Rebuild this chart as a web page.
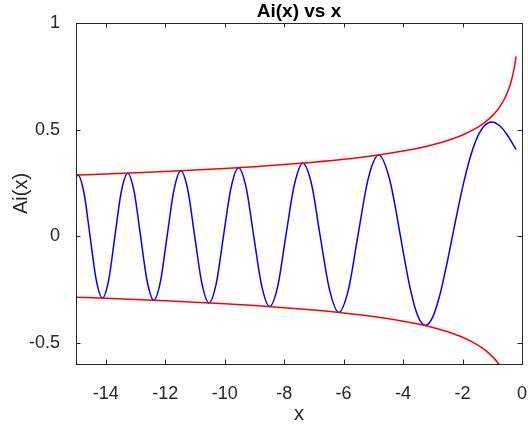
<!DOCTYPE html>
<html>
<head>
<meta charset="utf-8">
<script src="https://cdn.jsdelivr.net/npm/chart.js@4"></script>
<style>
  html, body { margin: 0; padding: 0; background: #fff; }
  #wrap { width: 528px; height: 427px; }
</style>
</head>
<body>
<div id="wrap"><canvas id="myChart" width="528" height="427"></canvas></div>
<script>
// Ai(x): peaks, troughs, zero crossings and points between
const aiX = [-15.0, -14.9365, -14.732, -14.5278, -14.32, -14.1115, -13.902, -13.6915,
    -13.477, -13.2622, -13.046, -12.8288, -12.607, -12.3848, -12.16, -11.936,
    -11.706, -11.4751, -11.242, -11.0085, -10.768, -10.5277, -10.284, -10.0402,
    -9.788, -9.5355, -9.279, -9.0227, -8.756, -8.4885, -8.216, -7.9441,
    -7.658, -7.3722, -7.079, -6.7867, -6.475, -6.1633, -5.842, -5.5206,
    -5.17, -4.8201, -4.454, -4.088, -4.0, -3.75, -3.5, -3.2482,
    -3.0, -2.75, -2.5, -2.3381, -2.25, -2.0, -1.75, -1.5,
    -1.25, -1.0188, -0.75, -0.5, -0.25, -0.2];
const aiY = [0.278, 0.287, 0.2036, 0, -0.2051, -0.2911, -0.2066, 0,
    0.2082, 0.2956, 0.2099, 0, -0.2117, -0.3007, -0.2136, 0,
    0.2157, 0.3065, 0.2179, 0, -0.2202, -0.3132, -0.2228, 0,
    0.2256, 0.321, 0.2286, 0, -0.2319, -0.3305, -0.2357, 0,
    0.2398, 0.3423, 0.2446, 0, -0.2501, -0.3579, -0.2535, 0,
    0.2712, 0.3804, 0.267, 0, -0.0703, -0.2521, -0.3763, -0.419,
    -0.3788, -0.2691, -0.1123, 0, 0.0616, 0.2274, 0.3655, 0.4643,
    0.52, 0.5357, 0.5178, 0.4757, 0.4187, 0.4063];

// red envelope curves
const envX = [-15, -14, -13, -12, -11, -10, -9, -8, -7, -6, -5, -4, -3.5, -3, -2.5,
    -2, -1.5, -1.25, -1, -0.8, -0.7, -0.6, -0.5, -0.4, -0.35, -0.3, -0.25, -0.225, -0.2];
const envUpper = [0.2867, 0.2917, 0.2971, 0.3031, 0.3098, 0.3173, 0.3257, 0.3355, 0.3469,
    0.3605, 0.3773, 0.3989, 0.4125, 0.4287, 0.4487, 0.4744, 0.5098, 0.5336, 0.5642,
    0.5966, 0.6168, 0.6411, 0.6709, 0.7094, 0.7335, 0.7623, 0.7979, 0.8192, 0.8437];
const envLower = [-0.2867, -0.2917, -0.2971, -0.3031, -0.3098, -0.3173, -0.3257, -0.3355, -0.3469,
    -0.3605, -0.3773, -0.3989, -0.4125, -0.4287, -0.4487, -0.4744, -0.5098, -0.5336, -0.5642,
    -0.5966, -0.6168, -0.6411, -0.6709, -0.7094, -0.7335, -0.7623, -0.7979, -0.8192, -0.8437];

const xTicks = [-14, -12, -10, -8, -6, -4, -2, 0];
const yTicks = [-0.5, 0, 0.5, 1];

const axisColor = "#262626";
const fontFamily = "'Liberation Sans', Arial, Helvetica, sans-serif";

const toPoints = (xs, ys) => xs.map((x, i) => ({ x: x, y: ys[i] }));

// box, inward ticks and the three titles, MATLAB style
const framePlugin = {
    id: "frame",
    afterDraw(chart) {
        const ctx = chart.ctx;
        const a = chart.chartArea;
        const xs = chart.scales.x;
        const ys = chart.scales.y;
        const tl = 4.5;
        ctx.save();
        ctx.strokeStyle = axisColor;
        ctx.lineWidth = 1;
        ctx.strokeRect(a.left + 0.5, a.top + 0.5, a.right - a.left, a.bottom - a.top);
        ctx.beginPath();
        xTicks.forEach((v) => {
            const px = Math.round(xs.getPixelForValue(v)) + 0.5;
            ctx.moveTo(px, a.bottom);
            ctx.lineTo(px, a.bottom - tl);
            ctx.moveTo(px, a.top);
            ctx.lineTo(px, a.top + tl);
        });
        yTicks.forEach((v) => {
            const py = Math.round(ys.getPixelForValue(v)) + 0.5;
            ctx.moveTo(a.left, py);
            ctx.lineTo(a.left + tl, py);
            ctx.moveTo(a.right, py);
            ctx.lineTo(a.right - tl, py);
        });
        ctx.stroke();

        const cx = (a.left + a.right) / 2;
        ctx.fillStyle = "#000";
        ctx.textAlign = "center";
        ctx.textBaseline = "middle";
        ctx.font = "bold 19px " + fontFamily;
        ctx.fillText("Ai(x) vs x", cx, 11.5);

        ctx.fillStyle = axisColor;
        ctx.font = "20px " + fontFamily;
        ctx.textBaseline = "alphabetic";
        ctx.fillText("x", cx, 420);

        ctx.translate(27, (a.top + a.bottom) / 2);
        ctx.rotate(-Math.PI / 2);
        ctx.fillText("Ai(x)", 0, 0);
        ctx.restore();
    },
};

const ctx = document.getElementById("myChart").getContext("2d");
const chart = new window.Chart(ctx, {
    type: "line",
    data: {
        datasets: [
            {
                label: "env+",
                data: toPoints(envX, envUpper),
                borderColor: "#ff0000",
                borderWidth: 1.5,
                pointRadius: 0,
                cubicInterpolationMode: "monotone",
            },
            {
                label: "env-",
                data: toPoints(envX, envLower),
                borderColor: "#ff0000",
                borderWidth: 1.5,
                pointRadius: 0,
                cubicInterpolationMode: "monotone",
            },
            {
                label: "Ai(x)",
                data: toPoints(aiX, aiY),
                borderColor: "#0000ff",
                borderWidth: 1.5,
                pointRadius: 0,
                cubicInterpolationMode: "monotone",
            },
        ],
    },
    options: {
        responsive: false,
        animation: false,
        devicePixelRatio: 1,
        layout: { padding: { left: 0, right: 6, top: 23, bottom: 0 } },
        plugins: {
            legend: { display: false },
            tooltip: { enabled: false },
        },
        scales: {
            x: {
                type: "linear",
                min: -15,
                max: 0,
                afterBuildTicks: (scale) => {
                    scale.ticks = xTicks.map((v) => ({ value: v }));
                },
                afterFit: (scale) => {
                    scale.height = 63;
                    scale.paddingLeft = 0;
                    scale.paddingRight = 0;
                },
                grid: { display: false },
                border: { display: false },
                ticks: {
                    padding: 11,
                    maxRotation: 0,
                    color: axisColor,
                    font: { family: fontFamily, size: 18 },
                    callback: (v) => String(v),
                },
            },
            y: {
                type: "linear",
                min: -0.6,
                max: 1,
                afterBuildTicks: (scale) => {
                    scale.ticks = yTicks.map((v) => ({ value: v }));
                },
                afterFit: (scale) => {
                    scale.width = 76;
                    scale.paddingTop = 0;
                    scale.paddingBottom = 0;
                },
                grid: { display: false },
                border: { display: false },
                ticks: {
                    padding: 8,
                    color: axisColor,
                    font: { family: fontFamily, size: 18 },
                    callback: (v) => String(v),
                },
            },
        },
    },
    plugins: [framePlugin],
});
</script>
</body>
</html>
